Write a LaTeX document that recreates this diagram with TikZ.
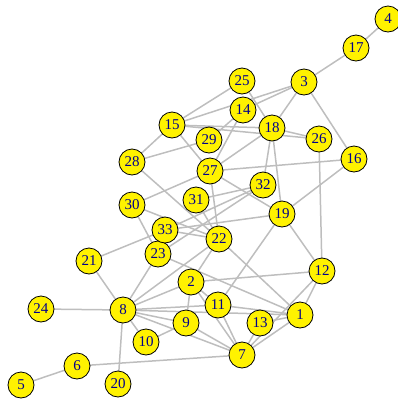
\documentclass[tikz,border=0pt]{standalone}
\usepackage{fontspec}
\setmainfont{Liberation Serif}
\usetikzlibrary{backgrounds}
\definecolor{lbl}{HTML}{00008B}
\definecolor{edg}{HTML}{BEBEBE}
\tikzset{
  vtx/.style={circle,draw=black,line width=0.8pt,fill=yellow,minimum size=26pt,inner sep=0pt,text=lbl,font=\fontsize{15}{15}\selectfont},
  lnk/.style={draw=edg,line width=1.5pt}
}
\begin{document}
\begin{tikzpicture}[x=1pt,y=-1pt]
\useasboundingbox (0,0) rectangle (398,405);
\node[vtx] (n1) at (300,315) {1};
\node[vtx] (n2) at (191,282) {2};
\node[vtx] (n3) at (304,82) {3};
\node[vtx] (n4) at (388,19) {4};
\node[vtx] (n5) at (21,385) {5};
\node[vtx] (n6) at (77,366) {6};
\node[vtx] (n7) at (242,355) {7};
\node[vtx] (n8) at (123,310) {8};
\node[vtx] (n9) at (186,323) {9};
\node[vtx] (n10) at (146,342) {10};
\node[vtx] (n11) at (218,305) {11};
\node[vtx] (n12) at (322,271) {12};
\node[vtx] (n13) at (260,323) {13};
\node[vtx] (n14) at (243,110) {14};
\node[vtx] (n15) at (172,125) {15};
\node[vtx] (n16) at (354,159) {16};
\node[vtx] (n17) at (356,48) {17};
\node[vtx] (n18) at (272,128) {18};
\node[vtx] (n19) at (282,214) {19};
\node[vtx] (n20) at (118,384) {20};
\node[vtx] (n21) at (89,261) {21};
\node[vtx] (n22) at (219,239) {22};
\node[vtx] (n23) at (158,254) {23};
\node[vtx] (n24) at (41,309) {24};
\node[vtx] (n25) at (242,81) {25};
\node[vtx] (n26) at (319,139) {26};
\node[vtx] (n27) at (210,171) {27};
\node[vtx] (n28) at (132,162) {28};
\node[vtx] (n29) at (209,140) {29};
\node[vtx] (n30) at (132,205) {30};
\node[vtx] (n31) at (196,200) {31};
\node[vtx] (n32) at (263,185) {32};
\node[vtx] (n33) at (165,230) {33};
\begin{pgfonlayer}{background}
\foreach \a/\b in {4/17,17/3,3/16,3/18,3/14,3/15,15/25,25/18,15/18,15/26,18/26,
  15/28,15/27,14/29,14/27,28/29,28/22,18/27,18/32,18/19,26/12,16/27,16/19,
  27/30,27/19,27/22,31/32,31/22,30/22,30/23,21/33,21/8,32/33,32/23,33/19,33/22,
  19/12,19/11,22/2,22/1,23/1,23/8,8/22,2/12,2/8,2/9,2/11,2/7,8/24,8/20,8/10,
  8/9,8/11,8/1,8/7,10/9,9/7,11/7,11/1,13/1,13/7,12/1,12/7,1/7,6/7,5/6}
  \draw[lnk] (n\a.center) -- (n\b.center);
\end{pgfonlayer}
\end{tikzpicture}
\end{document}
